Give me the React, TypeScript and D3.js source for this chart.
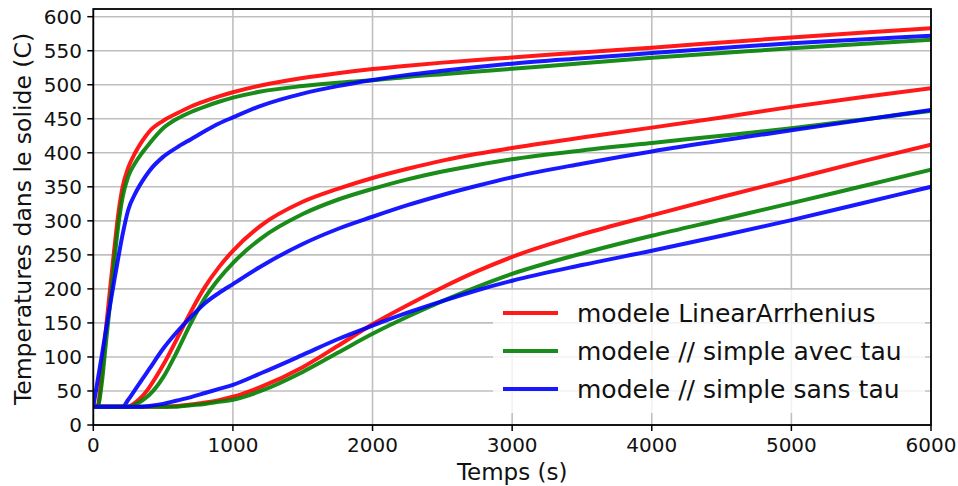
import React from "react";
import * as d3 from "d3";

const times = [0, 30, 60, 90, 120, 150, 180, 210, 250, 300, 350, 400, 500, 600, 700, 800, 900, 1000, 1200, 1500, 1750, 2000, 2250, 2500, 2750, 3000, 3500, 4000, 4500, 5000, 5500, 6000];

// near-surface position
const topRed = [27, 27, 75, 140, 200, 258, 312, 350, 378, 400, 417, 431, 447, 458, 468, 476, 483, 489, 499, 510, 517, 523, 528, 532.5, 536.5, 540, 547.5, 554.5, 562, 569.5, 576.5, 583];
const topGreen = [27, 27, 60, 120, 178, 240, 295, 335, 365, 385, 400, 413, 436, 450, 460, 468, 475, 481, 490, 498, 503, 506.5, 511.5, 515.5, 519.5, 523.5, 531.5, 539.5, 546.5, 553.5, 560, 566];
const topBlue = [27, 64, 101, 139, 176, 212, 247, 280, 316, 340, 358, 373, 394, 408, 420, 432, 443, 452, 469, 487, 498, 507, 514.5, 520.5, 526, 531, 539, 546.5, 554, 561, 566.5, 572];

// middle position
const midRed = [27, 27, 27, 27, 27, 27, 27, 27, 27, 33, 42, 55, 88, 127, 167, 203, 232, 256, 293, 328, 347, 363, 376.5, 388.5, 398.5, 407, 422.5, 437, 452, 467.5, 481.5, 495];
const midGreen = [27, 27, 27, 27, 27, 27, 27, 27, 27, 30, 36, 44, 70, 108, 150, 187, 215, 238, 274, 310, 331, 347, 361, 372.5, 382, 390.5, 403.5, 414.5, 425, 436, 448.5, 461.5];
const midBlue = [27, 27, 27, 27, 27, 27, 27, 27, 37, 52, 67, 82, 112, 137, 159, 179, 194, 207, 233, 266, 288, 306, 323, 338, 351.5, 364, 384, 402, 418, 433, 448, 463];

// deep position
const lowRed = [27, 27, 27, 27, 27, 27, 27, 27, 27, 27, 27, 27, 27, 28, 30, 33, 36.5, 41.5, 56, 85, 116, 148, 176, 202, 226, 247, 280, 308, 335, 361, 387, 412];
const lowGreen = [27, 27, 27, 27, 27, 27, 27, 27, 27, 27, 27, 27, 27, 27, 29, 31, 34, 37, 50, 78, 106, 134, 159, 182, 203, 222, 252, 278, 302, 326, 350.5, 375];
const lowBlue = [27, 27, 27, 27, 27, 27, 27, 27, 27, 27, 27, 28, 31, 36, 41, 47, 53, 59, 76, 103, 126, 146, 165, 182, 198, 212, 235, 256, 278, 301, 325.5, 350];

const seriesNames = ["modele LinearArrhenius", "modele // simple avec tau", "modele // simple sans tau"];
const seriesColors = ["#ff0000", "#008000", "#0000ff"];
const curves = [
  { s: 0, v: topRed }, { s: 1, v: topGreen }, { s: 2, v: topBlue },
  { s: 0, v: midRed }, { s: 1, v: midGreen }, { s: 2, v: midBlue },
  { s: 0, v: lowRed }, { s: 1, v: lowGreen }, { s: 2, v: lowBlue },
];

const xTicks = [0, 1000, 2000, 3000, 4000, 5000, 6000];
const yTicks = [0, 50, 100, 150, 200, 250, 300, 350, 400, 450, 500, 550, 600];
const xLabel = "Temps (s)";
const yLabel = "Temperatures dans le solide (C)";

const W = 958, H = 486;
const L = 93.3, R = 931, T = 9, B = 425;
const FONT = "DejaVu Sans, sans-serif";

export default function App() {
  const x = d3.scaleLinear().domain([0, 6000]).range([L, R]);
  const y = d3.scaleLinear().domain([0, 611.3]).range([B, T]);
  const line = d3.line<number>().x((_, i) => x(times[i])).y((d) => y(d)).curve(d3.curveMonotoneX);

  return (
    <svg width={W} height={H} style={{ position: "absolute", left: 0, top: 0, background: "#fff" }} fontFamily={FONT}>
      <rect x={0} y={0} width={W} height={H} fill="#fff" />
      <defs>
        <clipPath id="plot"><rect x={L} y={T} width={R - L} height={B - T} /></clipPath>
      </defs>
      {xTicks.map((t) => (
        <line key={"gx" + t} x1={x(t)} x2={x(t)} y1={T} y2={B} stroke="#bfbfbf" strokeWidth={1.6} />
      ))}
      {yTicks.map((t) => (
        <line key={"gy" + t} x1={L} x2={R} y1={y(t)} y2={y(t)} stroke="#bfbfbf" strokeWidth={1.6} />
      ))}
      <g clipPath="url(#plot)">
        {curves.map((c, i) => (
          <path key={i} d={line(c.v) || ""} fill="none" stroke={seriesColors[c.s]} strokeOpacity={0.9} strokeWidth={4} strokeLinejoin="round" />
        ))}
      </g>
      <rect x={L} y={T} width={R - L} height={B - T} fill="none" stroke="#000" strokeWidth={1.8} />
      {xTicks.map((t) => (
        <g key={"tx" + t}>
          <line x1={x(t)} x2={x(t)} y1={B} y2={B + 6} stroke="#000" strokeWidth={1.5} />
          <text x={x(t)} y={452} textAnchor="middle" fontSize={20} fill="#111">{t}</text>
        </g>
      ))}
      {yTicks.map((t) => (
        <g key={"ty" + t}>
          <line x1={L - 6} x2={L} y1={y(t)} y2={y(t)} stroke="#000" strokeWidth={1.5} />
          <text x={82} y={y(t)} dy="0.36em" textAnchor="end" fontSize={20} fill="#111">{t}</text>
        </g>
      ))}
      <text x={(L + R) / 2} y={480} textAnchor="middle" fontSize={23} fill="#111">{xLabel}</text>
      <text transform={`translate(31,${(T + B) / 2 + 2}) rotate(-90)`} textAnchor="middle" fontSize={23.5} fill="#111">{yLabel}</text>
      <rect x={493} y={290} width={432} height={123} fill="#fff" fillOpacity={0.8} />
      {seriesNames.map((n, i) => (
        <g key={n}>
          <line x1={503} x2={558} y1={313 + i * 38} y2={313 + i * 38} stroke={seriesColors[i]} strokeOpacity={0.9} strokeWidth={4} />
          <text x={577} y={313 + i * 38} dy="0.36em" fontSize={25} fill="#111">{n}</text>
        </g>
      ))}
    </svg>
  );
}
